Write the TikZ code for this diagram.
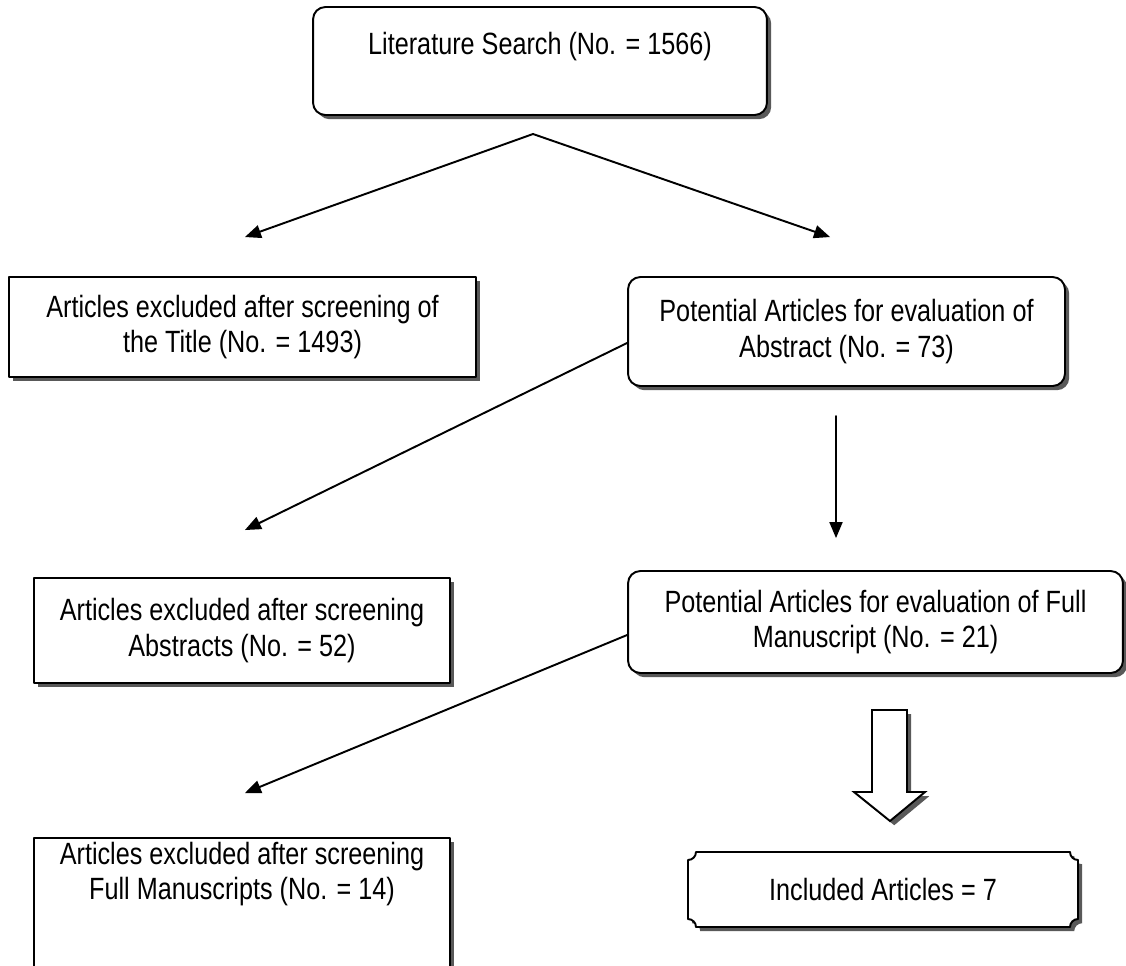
\documentclass[tikz,border=0pt]{standalone}
\usepackage{fontspec}
\newfontfamily\flowfamily[FakeStretch=0.82]{Liberation Sans}
\usetikzlibrary{arrows}
\usetikzlibrary{shadows}
\usetikzlibrary{calc}

\newcommand{\flowfont}{\flowfamily\fontsize{17.5pt}{20pt}\selectfont}

\tikzset{
  shade/.style={drop shadow={shadow xshift=2.4pt,shadow yshift=-2.4pt,fill=black!65,opacity=1}},
  box/.style={draw=black,fill=white,line width=1.1pt,align=center,font=\flowfont,inner sep=2pt,shade},
  roundbox/.style={box,rounded corners=7pt},
  plaque/.style={draw=black,fill=white,line width=1.1pt,shade},
  link/.style={->,line width=1.1pt}
}

\begin{document}
\begin{tikzpicture}[line cap=round,line join=round,>=triangle 45,x=0.02cm,y=-0.02cm]
        \useasboundingbox (0,0) rectangle (1126,965);
        \clip (0,0) rectangle (1126,965);
        % boxes
        \node[roundbox,minimum width=9.08cm,minimum height=2.16cm] (search) at (540,61) {Literature Search (No. = 1566)\\ \mbox{}};
        \node[box,minimum width=9.34cm,minimum height=2cm] (titleexcl) at (242.5,327) {Articles excluded after screening of\\the Title (No. = 1493)};
        \node[roundbox,minimum width=8.74cm,minimum height=2.18cm] (abstract) at (846.5,331.5) {Potential Articles for evaluation of\\Abstract (No. = 73)};
        \node[box,minimum width=8.32cm,minimum height=2.1cm] (absexcl) at (242,630.5) {Articles excluded after screening\\Abstracts (No. = 52)};
        \node[roundbox,minimum width=9.9cm,minimum height=2.04cm] (fullms) at (875.5,622) {Potential Articles for evaluation of Full\\Manuscript (No. = 21)};
        \node[box,minimum width=8.32cm,minimum height=2.72cm] (msexcl) at (242,906) {Articles excluded after screening\\Full Manuscripts (No. = 14)\\ \mbox{}\\ \mbox{}};
        % final plaque
        \coordinate (plqa) at (688,852);
        \coordinate (plqb) at (1078,927);
        \draw[plaque] ($(plqa)+(8,0)$) -- ($(plqa -| plqb)+(-8,0)$)
          .. controls ($(plqa -| plqb)+(-8,4.4)$) and ($(plqa -| plqb)+(-4.4,8)$) .. ($(plqa -| plqb)+(0,8)$)
          -- ($(plqb)+(0,-8)$)
          .. controls ($(plqb)+(-4.4,-8)$) and ($(plqb)+(-8,-4.4)$) .. ($(plqb)+(-8,0)$)
          -- ($(plqa |- plqb)+(8,0)$)
          .. controls ($(plqa |- plqb)+(8,-4.4)$) and ($(plqa |- plqb)+(4.4,-8)$) .. ($(plqa |- plqb)+(0,-8)$)
          -- ($(plqa)+(0,8)$)
          .. controls ($(plqa)+(4.4,8)$) and ($(plqa)+(8,4.4)$) .. ($(plqa)+(8,0)$) -- cycle;
        \node[font=\flowfont] (included) at ($(plqa)!0.5!(plqb)$) {Included Articles = 7};
        % connectors
        \coordinate (apex) at (533,134);
        \coordinate (titletip) at (245,237);
        \coordinate (abstip) at (830,237);
        \draw[link] (apex) -- (titletip);
        \draw[link] (apex) -- (abstip);
        \coordinate (absexcltip) at (245,530);
        \draw[link] (abstract.183) -- (absexcltip);
        \coordinate (vtop) at (836,416);
        \coordinate (vtip) at (836,538);
        \draw[link] (vtop) -- (vtip);
        \coordinate (msexcltip) at (245,793);
        \draw[link] (fullms.183) -- (msexcltip);
        % block arrow
        \draw[plaque,line join=miter] (872,710) -- (907,710) -- (907,792) -- (925,792) -- (890,821) -- (854,792) -- (872,792) -- cycle;
\end{tikzpicture}
\end{document}
